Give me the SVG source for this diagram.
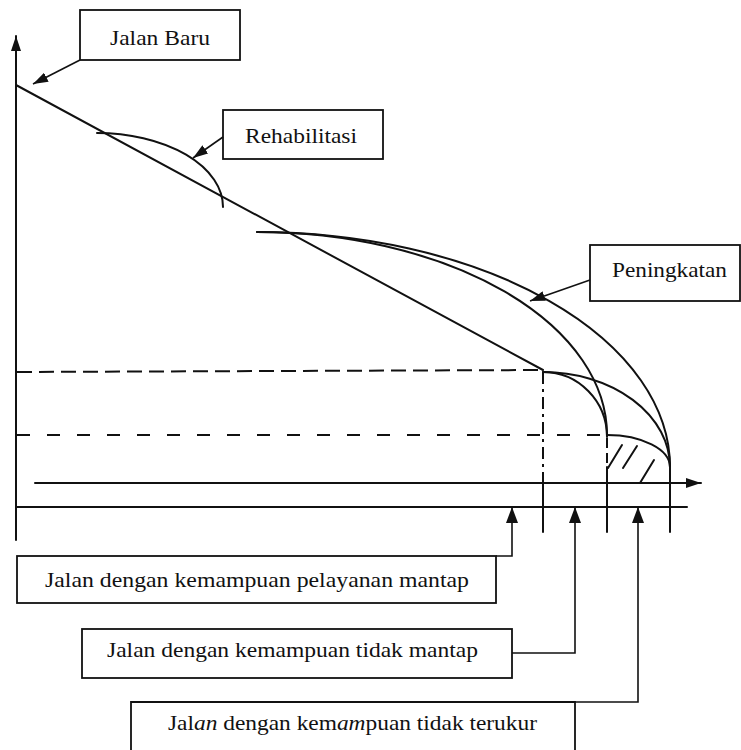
<svg xmlns="http://www.w3.org/2000/svg" width="741" height="750" viewBox="0 0 741 750">
<style>
.ln{fill:none;stroke:#111;stroke-width:2;stroke-linecap:round}
.thin{fill:none;stroke:#111;stroke-width:1.6}
.box{fill:#fff;stroke:#111;stroke-width:1.8}
.dash1{fill:none;stroke:#111;stroke-width:2;stroke-dasharray:15 7}
.dash2{fill:none;stroke:#111;stroke-width:2;stroke-dasharray:13 17}
.dashdot{fill:none;stroke:#111;stroke-width:2;stroke-dasharray:12 5 3 5}
text{font-family:'Liberation Serif','DejaVu Serif',serif;font-size:22px;fill:#111}
.i{font-style:italic}
</style>
<defs>
<marker id="ah" viewBox="0 0 15 10" refX="15" refY="5" markerWidth="15" markerHeight="10" markerUnits="userSpaceOnUse" orient="auto">
<path d="M0,0 L15,5 L0,10 z" fill="#111"/>
</marker>
<marker id="ah2" viewBox="0 0 16 12" refX="16" refY="6" markerWidth="16" markerHeight="12" markerUnits="userSpaceOnUse" orient="auto">
<path d="M0,0 L16,6 L0,12 z" fill="#111"/>
</marker>
</defs>
<rect width="741" height="750" fill="#fff"/>

<g id="chart">
<line class="ln" x1="16" y1="540" x2="16" y2="36" marker-end="url(#ah)"/>
<line class="ln" x1="35" y1="483" x2="701" y2="483" marker-end="url(#ah)"/>
<line class="ln" x1="16" y1="507" x2="687" y2="507"/>
<line class="ln" x1="16" y1="85" x2="543" y2="370"/>
<path class="ln" d="M97,133 A126,74 0 0 1 223,207"/>
<path class="ln" d="M257,232 A350,203 0 0 1 607,435"/>
<path class="ln" d="M257,232 A413,235 0 0 1 670,467"/>
<path class="ln" d="M543,372 A64,65 0 0 1 607,437"/>
<path class="ln" d="M543,372 A127,95 0 0 1 670,467"/>
<path class="ln" d="M607,435 A63,32 0 0 1 670,467"/>
<line class="ln" x1="608" y1="468" x2="622" y2="445"/>
<line class="ln" x1="623" y1="468" x2="637" y2="446"/>
<line class="ln" x1="640" y1="483" x2="654" y2="460"/>
<line class="dash1" x1="17" y1="372" x2="543" y2="370"/>
<line class="dash2" x1="17" y1="435" x2="607" y2="435"/>
<line class="dashdot" x1="543" y1="372" x2="543" y2="483"/>
<line class="ln" x1="543" y1="483" x2="543" y2="532"/>
<line class="dash2" x1="607" y1="438" x2="607" y2="467" style="stroke-dasharray:10 5"/>
<line class="ln" x1="607" y1="467" x2="607" y2="532"/>
<line class="ln" x1="670" y1="467" x2="670" y2="532"/>
</g>

<g id="jalan-baru">
<rect class="box" x="80" y="10" width="160" height="50"/>
<text x="110" y="45" font-size="23" textLength="100" lengthAdjust="spacingAndGlyphs">Jalan Baru</text>
</g>
<g id="rehabilitasi">
<rect class="box" x="223" y="110" width="160" height="49"/>
<text x="245" y="143" font-size="23" textLength="112" lengthAdjust="spacingAndGlyphs">Rehabilitasi</text>
</g>
<g id="peningkatan">
<rect class="box" x="590" y="245" width="150" height="56"/>
<text x="612" y="277" textLength="115" lengthAdjust="spacingAndGlyphs">Peningkatan</text>
</g>
<g id="mantap">
<rect class="box" x="17" y="556" width="479" height="47"/>
<text x="45" y="587" textLength="424" lengthAdjust="spacingAndGlyphs">Jalan dengan kemampuan pelayanan mantap</text>
</g>
<g id="tidak-mantap">
<rect class="box" x="82" y="629" width="430" height="49"/>
<text x="107" y="657" textLength="371" lengthAdjust="spacingAndGlyphs">Jalan dengan kemampuan tidak mantap</text>
</g>
<g id="tidak-terukur">
<path class="box" d="M131,751 V702 H575 V751"/>
<text x="168" y="730" textLength="369" lengthAdjust="spacingAndGlyphs">Jal<tspan class="i">an</tspan> dengan kem<tspan class="i">am</tspan>puan tidak terukur</text>
</g>

<g id="connectors">
<line class="thin" x1="80" y1="60" x2="33" y2="84" marker-end="url(#ah)"/>
<line class="thin" x1="223" y1="137" x2="193" y2="158" marker-end="url(#ah)"/>
<line class="thin" x1="590" y1="280" x2="530" y2="301" marker-end="url(#ah)"/>
<polyline class="thin" points="496,556 512,556 512,507" marker-end="url(#ah2)"/>
<polyline class="thin" points="512,653 575,653 575,507" marker-end="url(#ah2)"/>
<polyline class="thin" points="575,702 638,702 638,507" marker-end="url(#ah2)"/>
</g>
</svg>
